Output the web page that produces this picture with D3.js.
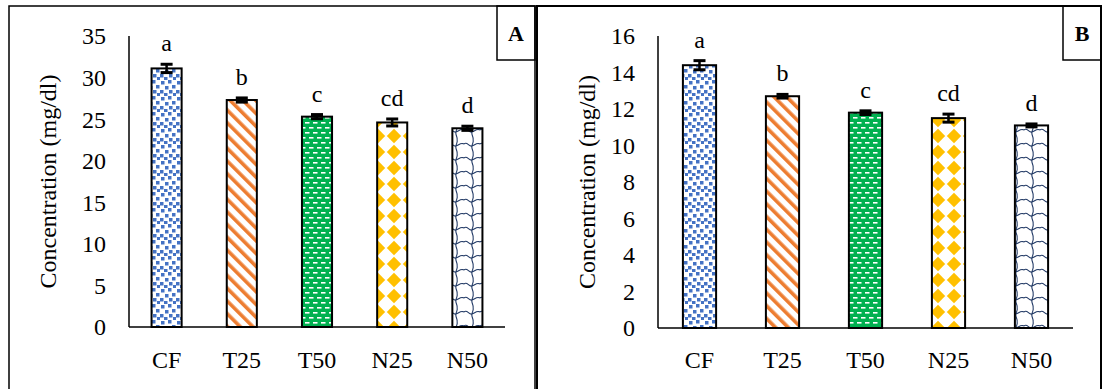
<!DOCTYPE html>
<html>
<head>
<meta charset="utf-8">
<script src="https://cdn.jsdelivr.net/npm/d3@7"></script>
<style>
  body { margin: 0; background: #fff; }
  svg { display: block; font-family: "Liberation Serif", "Times New Roman", serif; }
</style>
</head>
<body>
<div id="chart"></div>
<script>
// data
const groups = ["CF", "T25", "T50", "N25", "N50"];
const letters = ["a", "b", "c", "cd", "d"];

const meansA = [31.1, 27.3, 25.3, 24.6, 23.9];
const errA = [0.5, 0.25, 0.25, 0.42, 0.25];
const ticksA = [0, 5, 10, 15, 20, 25, 30, 35];

const meansB = [14.4, 12.7, 11.8, 11.5, 11.1];
const errB = [0.25, 0.1, 0.1, 0.22, 0.08];
const ticksB = [0, 2, 4, 6, 8, 10, 12, 14, 16];

const width = 1104, height = 389;

const svg = d3.select("#chart").append("svg")
    .attr("width", width)
    .attr("height", height);

// fill patterns
const defs = svg.append("defs");

function makePatterns() {
    // CF - blue confetti
    let p = defs.append("pattern").attr("id", "pCF")
        .attr("patternUnits", "userSpaceOnUse").attr("width", 16).attr("height", 16);
    p.append("rect").attr("width", 16).attr("height", 16).attr("fill", "#fff");
    [[1, 1], [8, 0], [12, 5], [5, 6], [0, 10], [9, 10], [4, 13], [13, 13]].forEach(d => {
        p.append("rect").attr("x", d[0]).attr("y", d[1])
            .attr("width", 3.5).attr("height", 3.5).attr("fill", "#4472C4");
    });

    // T25 - orange wide diagonal stripes
    p = defs.append("pattern").attr("id", "pT25")
        .attr("patternUnits", "userSpaceOnUse").attr("width", 9).attr("height", 9)
        .attr("patternTransform", "rotate(-45)");
    p.append("rect").attr("width", 9).attr("height", 9).attr("fill", "#fff");
    p.append("rect").attr("width", 3.6).attr("height", 9).attr("fill", "#ED7D31");

    // T50 - green with white dashes
    p = defs.append("pattern").attr("id", "pT50")
        .attr("patternUnits", "userSpaceOnUse").attr("width", 8).attr("height", 10);
    p.append("rect").attr("width", 8).attr("height", 10).attr("fill", "#00B050");
    p.append("rect").attr("x", 1).attr("y", 2).attr("width", 4.5).attr("height", 1.6).attr("fill", "#fff");
    p.append("rect").attr("x", 5).attr("y", 7).attr("width", 4.5).attr("height", 1.6).attr("fill", "#fff");
    p.append("rect").attr("x", -3).attr("y", 7).attr("width", 4.5).attr("height", 1.6).attr("fill", "#fff");

    // N25 - gold diamonds
    p = defs.append("pattern").attr("id", "pN25")
        .attr("patternUnits", "userSpaceOnUse").attr("width", 16).attr("height", 16)
        .attr("x", 2).attr("y", 0);
    p.append("rect").attr("width", 16).attr("height", 16).attr("fill", "#fff");
    p.append("path").attr("d", "M8,0.8L15.2,8L8,15.2L0.8,8Z").attr("fill", "#FFC000");

    // N50 - navy wave
    p = defs.append("pattern").attr("id", "pN50")
        .attr("patternUnits", "userSpaceOnUse").attr("width", 16).attr("height", 14);
    p.append("rect").attr("width", 16).attr("height", 14).attr("fill", "#fff");
    p.append("path")
        .attr("d", "M0,4 C3,1 5,7 8,6 C11,5 13,2 16,4 M8,6 C7,9 10,11 9,14 M9,0 C10,2 8,4 8,6")
        .attr("fill", "none").attr("stroke", "#203864").attr("stroke-width", 1.1);
}
makePatterns();

const fills = ["url(#pCF)", "url(#pT25)", "url(#pT50)", "url(#pN25)", "url(#pN50)"];

function drawPanel(opts) {
    const g = svg.append("g");

    // frame and the panel letter box
    g.append("rect")
        .attr("x", opts.frame[0]).attr("y", 6)
        .attr("width", opts.frame[1] - opts.frame[0]).attr("height", 400)
        .attr("fill", "none").attr("stroke", "#000").attr("stroke-width", opts.frameW);
    g.append("rect")
        .attr("x", opts.box[0]).attr("y", 6)
        .attr("width", opts.box[1] - opts.box[0]).attr("height", 54)
        .attr("fill", "none").attr("stroke", "#000").attr("stroke-width", 1.5);
    g.append("text")
        .attr("x", (opts.box[0] + opts.box[1]) / 2).attr("y", 41)
        .attr("text-anchor", "middle")
        .attr("font-size", 22).attr("font-weight", "bold")
        .text(opts.label);

    const x = d3.scaleBand()
        .domain(groups)
        .range([opts.left, opts.right])
        .paddingInner(0.6)
        .paddingOuter(0.3);
    const y = d3.scaleLinear()
        .domain([0, opts.max])
        .range([opts.bottom, opts.top]);

    // y tick labels
    g.selectAll(".ytick").data(opts.ticks).enter().append("text")
        .attr("class", "ytick")
        .attr("x", opts.tickX)
        .attr("y", d => y(d))
        .attr("dy", "0.35em")
        .attr("text-anchor", "end")
        .attr("font-size", 24)
        .text(d => d);

    // y title
    g.append("text")
        .attr("transform", "translate(" + opts.titleX + "," + ((opts.top + opts.bottom) / 2) + ") rotate(-90)")
        .attr("text-anchor", "middle")
        .attr("dy", "0.35em")
        .attr("font-size", 24)
        .text("Concentration (mg/dl)");

    // bars
    g.selectAll(".bar").data(opts.means).enter().append("rect")
        .attr("class", "bar")
        .attr("x", (d, i) => x(groups[i]))
        .attr("y", d => y(d))
        .attr("width", x.bandwidth())
        .attr("height", d => y(0) - y(d))
        .attr("fill", (d, i) => fills[i])
        .attr("stroke", "#000")
        .attr("stroke-width", 2);

    // axes lines (no tick marks)
    g.append("line")
        .attr("x1", opts.left).attr("x2", opts.left)
        .attr("y1", y(opts.max)).attr("y2", y(0))
        .attr("stroke", "#000").attr("stroke-width", 1.5);
    g.append("line")
        .attr("x1", opts.left).attr("x2", opts.right)
        .attr("y1", y(0)).attr("y2", y(0))
        .attr("stroke", "#000").attr("stroke-width", 1.5);

    // error bars
    opts.means.forEach(function(m, i) {
        const cx = x(groups[i]) + x.bandwidth() / 2;
        const e = opts.err[i];
        const eb = g.append("g").attr("stroke", "#000");
        eb.append("line")
            .attr("x1", cx).attr("x2", cx)
            .attr("y1", y(m + e)).attr("y2", y(m - e))
            .attr("stroke-width", 2.5);
        [m + e, m - e].forEach(v => {
            eb.append("line")
                .attr("x1", cx - 6).attr("x2", cx + 6)
                .attr("y1", y(v)).attr("y2", y(v))
                .attr("stroke-width", 3);
        });

        g.append("text")
            .attr("x", cx)
            .attr("y", y(m + e) - 13)
            .attr("text-anchor", "middle")
            .attr("font-size", 24)
            .text(letters[i]);
    });

    // x labels
    g.selectAll(".xlab").data(groups).enter().append("text")
        .attr("class", "xlab")
        .attr("x", d => x(d) + x.bandwidth() / 2)
        .attr("y", 368)
        .attr("text-anchor", "middle")
        .attr("font-size", 24)
        .text(d => d);
}

drawPanel({
    label: "A", frame: [9, 535], frameW: 1.5, box: [497, 535],
    left: 129, right: 505, top: 36, bottom: 327, max: 35,
    means: meansA, err: errA, ticks: ticksA, tickX: 106, titleX: 48
});

drawPanel({
    label: "B", frame: [537, 1101], frameW: 2, box: [1063, 1101],
    left: 658, right: 1073, top: 36, bottom: 328, max: 16,
    means: meansB, err: errB, ticks: ticksB, tickX: 635, titleX: 587
});
</script>
</body>
</html>
